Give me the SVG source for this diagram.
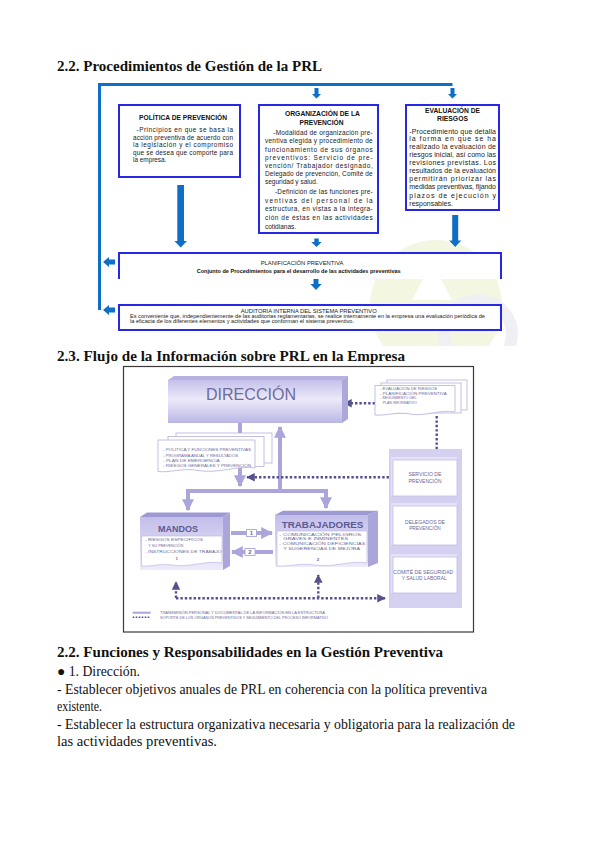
<svg xmlns="http://www.w3.org/2000/svg" width="600" height="848" viewBox="0 0 600 848">
<defs>
<style>
.h{font-family:"Liberation Serif",serif;font-weight:bold;font-size:15px;fill:#111}
.p{font-family:"Liberation Serif",serif;font-size:14px;fill:#111}
.bt{font-family:"Liberation Sans",Arial,sans-serif;font-weight:bold;fill:#111}
.b{font-family:"Liberation Sans",Arial,sans-serif;fill:#1a1a1a}
.box{fill:#fff;stroke:#2828e4;stroke-width:2}
.frame{stroke:#0f6fc6;stroke-width:3;fill:none}
.ba{fill:#0f6fc6}
.lv{stroke:#aaa6dc;stroke-width:4;fill:none}
.dt{stroke:#55518f;stroke-width:2.4;stroke-dasharray:2.4 2;fill:none}
.s{font-family:"Liberation Sans",Arial,sans-serif;fill:#6a6898}
.pg{fill:#fff;stroke:#b4b0dc;stroke-width:0.8}
</style>
<linearGradient id="gDir" x1="0" y1="0" x2="0" y2="1">
<stop offset="0" stop-color="#c4c0ea"/><stop offset="0.45" stop-color="#eceaf9"/><stop offset="1" stop-color="#bab6e5"/>
</linearGradient>
<linearGradient id="gHead" x1="0" y1="0" x2="0" y2="1">
<stop offset="0" stop-color="#c2beea"/><stop offset="1" stop-color="#eeecfa"/>
</linearGradient>
<clipPath id="wmClip"><rect x="340" y="200" width="260" height="146"/></clipPath>
<marker id="mLv" viewBox="0 0 10 10" refX="9" refY="5" markerWidth="3" markerHeight="3" orient="auto" markerUnits="strokeWidth">
<path d="M0,0 L10,5 L0,10 z" fill="#aaa6dc"/>
</marker>
<marker id="mDt" viewBox="0 0 10 10" refX="9" refY="5" markerWidth="3.6" markerHeight="3.6" orient="auto" markerUnits="strokeWidth">
<path d="M0,0 L10,5 L0,10 z" fill="#55518f"/>
</marker>
</defs>
<rect width="600" height="848" fill="#fff"/>

<!-- watermark -->
<g id="watermark" clip-path="url(#wmClip)">
<circle cx="436" cy="306" r="66" fill="#f3f7e2"/>
<path d="M412,300 L432,262 L452,300 Z" fill="#fff"/>
<circle cx="478" cy="334" r="34" fill="none" stroke="#eef0f4" stroke-width="12"/>
</g>

<!-- headings and paragraph -->
<g id="texts">
<text class="h" x="57" y="71" textLength="265" lengthAdjust="spacingAndGlyphs">2.2. Procedimientos de Gestión de la PRL</text>
<text class="h" x="57" y="361" textLength="348" lengthAdjust="spacingAndGlyphs">2.3. Flujo de la Información sobre PRL en la Empresa</text>
<text class="h" x="57" y="657" textLength="386" lengthAdjust="spacingAndGlyphs">2.2. Funciones y Responsabilidades en la Gestión Preventiva</text>
<text class="p" x="57" y="676" textLength="83" lengthAdjust="spacingAndGlyphs">● 1. Dirección.</text>
<text class="p" x="57" y="693.5" textLength="430" lengthAdjust="spacingAndGlyphs">- Establecer objetivos anuales de PRL en coherencia con la política preventiva</text>
<text class="p" x="57" y="711" textLength="45" lengthAdjust="spacingAndGlyphs">existente.</text>
<text class="p" x="57" y="728.5" textLength="458" lengthAdjust="spacingAndGlyphs">- Establecer la estructura organizativa necesaria y obligatoria para la realización de</text>
<text class="p" x="57" y="746" textLength="160" lengthAdjust="spacingAndGlyphs">las actividades preventivas.</text>
</g>

<!-- diagram 1 connectors -->
<g id="d1-connectors">
<path class="frame" d="M99.5,310 V84.5 H452.5"/>
<path class="ba" d="M314.5,88 h4 v6 h2.5 l-4.5,4.5 l-4.5,-4.5 h2.5 z"/>
<path class="ba" d="M450.5,88 h4 v6 h2.5 l-4.5,4.5 l-4.5,-4.5 h2.5 z"/>
<path class="ba" d="M177.3,185 h6.7 v56 h3 l-6.3,6.5 l-6.3,-6.5 h2.9 z"/>
<path class="ba" d="M314.3,238.5 h4.4 v3.5 h3 l-5.2,5 l-5.2,-5 h3 z"/>
<path class="ba" d="M452.2,215 h6 v25.5 h3 l-6,6.5 l-6,-6.5 h3 z"/>
<path class="ba" d="M313.5,279 h5 v5 h3.2 l-5.7,6 l-5.7,-6 h3.2 z"/>
<path class="ba" d="M103,262 l6,-5 v2.5 h6 v5 h-6 v2.5 z"/>
<path class="ba" d="M103,310 l6,-5 v2.5 h6 v5 h-6 v2.5 z"/>
</g>

<g id="politica">
<rect class="box" x="119" y="105" width="121" height="72"/>
<text class="bt" x="183" y="120.3" font-size="6.6" text-anchor="middle" textLength="88" lengthAdjust="spacingAndGlyphs">POLÍTICA DE PREVENCIÓN</text>
<g class="b" font-size="6.4">
<text x="136.5" y="132" textLength="96.5" lengthAdjust="spacing">-Principios en que se basa la</text>
<text x="133" y="139.5" textLength="100" lengthAdjust="spacing">acción preventiva de acuerdo con</text>
<text x="133" y="147" textLength="100" lengthAdjust="spacing">la legislación y el compromiso</text>
<text x="133" y="154.5" textLength="100" lengthAdjust="spacing">que se desea que comporte para</text>
<text x="133" y="162">la empresa.</text>
</g>
</g>

<g id="organizacion">
<rect class="box" x="259" y="105" width="119" height="128"/>
<text class="bt" x="322.5" y="116.3" font-size="6.6" text-anchor="middle" textLength="75" lengthAdjust="spacingAndGlyphs">ORGANIZACIÓN DE LA</text>
<text class="bt" x="321.5" y="124.7" font-size="6.6" text-anchor="middle" textLength="44" lengthAdjust="spacingAndGlyphs">PREVENCIÓN</text>
<g class="b" font-size="6.5">
<text x="273.3" y="135.3" textLength="99.4" lengthAdjust="spacing">-Modalidad de organización pre-</text>
<text x="265" y="143" textLength="107.7" lengthAdjust="spacing">ventiva elegida y procedimiento de</text>
<text x="265" y="151.5" textLength="107.7" lengthAdjust="spacing">funcionamiento de sus órganos</text>
<text x="265" y="160" textLength="107.7" lengthAdjust="spacing">preventivos: Servicio de pre-</text>
<text x="265" y="168" textLength="107.7" lengthAdjust="spacing">vención/ Trabajador designado,</text>
<text x="265" y="176.3" textLength="107.7" lengthAdjust="spacing">Delegado de prevención, Comité de</text>
<text x="265" y="183.7">seguridad y salud.</text>
<text x="275" y="193.7" textLength="97.7" lengthAdjust="spacing">-Definición de las funciones pre-</text>
<text x="265" y="202.5" textLength="107.7" lengthAdjust="spacing">ventivas del personal de la</text>
<text x="265" y="211.3" textLength="107.7" lengthAdjust="spacing">estructura, en vistas a la integra-</text>
<text x="265" y="220.2" textLength="107.7" lengthAdjust="spacing">ción de éstas en las actividades</text>
<text x="265" y="228.7">cotidianas.</text>
</g>
</g>

<g id="evaluacion">
<rect class="box" x="406" y="105" width="93" height="105"/>
<text class="bt" x="452.5" y="112.7" font-size="6.8" text-anchor="middle" textLength="55" lengthAdjust="spacingAndGlyphs">EVALUACIÓN DE</text>
<text class="bt" x="452.5" y="121" font-size="6.8" text-anchor="middle" textLength="31" lengthAdjust="spacingAndGlyphs">RIESGOS</text>
<g class="b" font-size="7">
<text x="409.3" y="133.7" textLength="86.7" lengthAdjust="spacing">-Procedimiento que detalla</text>
<text x="409.3" y="141.3" textLength="86.7" lengthAdjust="spacing">la forma en que se ha</text>
<text x="409.3" y="148.7" textLength="86.7" lengthAdjust="spacing">realizado la evaluación de</text>
<text x="409.3" y="157" textLength="86.7" lengthAdjust="spacing">riesgos inicial, así como las</text>
<text x="409.3" y="165.3" textLength="86.7" lengthAdjust="spacing">revisiones previstas. Los</text>
<text x="409.3" y="173" textLength="86.7" lengthAdjust="spacing">resultados de la evaluación</text>
<text x="409.3" y="181.3" textLength="86.7" lengthAdjust="spacing">permitirán priorizar las</text>
<text x="409.3" y="189.3" textLength="86.7" lengthAdjust="spacing">medidas preventivas, fijando</text>
<text x="409.3" y="198" textLength="86.7" lengthAdjust="spacing">plazos de ejecución y</text>
<text x="409.3" y="206">responsables.</text>
</g>
</g>

<g id="planificacion">
<rect x="119" y="253" width="382" height="26" fill="#fff"/>
<path d="M119,279 V253 H501 V279" fill="none" stroke="#2828e4" stroke-width="2"/>
<text class="b" x="302" y="265" font-size="5.6" text-anchor="middle" textLength="82.6" lengthAdjust="spacingAndGlyphs">PLANIFICACIÓN PREVENTIVA</text>
<text class="bt" x="298.7" y="272.5" font-size="5.4" text-anchor="middle" textLength="204" lengthAdjust="spacingAndGlyphs">Conjunto de Procedimientos para el desarrollo de las actividades preventivas</text>
</g>

<g id="auditoria">
<rect class="box" x="119" y="305" width="382" height="25"/>
<text class="b" x="308.7" y="312.5" font-size="5.4" text-anchor="middle" textLength="136" lengthAdjust="spacingAndGlyphs">AUDITORIA INTERNA DEL SISTEMA PREVENTIVO</text>
<text class="b" x="130" y="317.8" font-size="5.2" textLength="355" lengthAdjust="spacingAndGlyphs">Es conveniente que, independientemente de las auditorias reglamentarias, se realice internamente en la empresa una evaluación periódica de</text>
<text class="b" x="130" y="323.3" font-size="5.2" textLength="224" lengthAdjust="spacingAndGlyphs">la eficacia de los diferentes elementos y actividades que conforman el sistema preventivo.</text>
</g>

<!-- diagram 2 -->
<g id="image-frame">
<rect x="123.5" y="366.5" width="350" height="265.5" fill="#fff" stroke="#3a3a3a" stroke-width="1.2"/>
</g>

<g id="d2-connectors">
<path class="lv" d="M240,423 V470"/>
<path class="lv" d="M240,470 V486" marker-end="url(#mLv)"/>
<path class="lv" d="M280,491 V427" marker-end="url(#mLv)"/>
<path class="lv" d="M186,491 H328"/>
<path class="lv" d="M188,491 V510" marker-end="url(#mLv)"/>
<path class="lv" d="M326,491 V508" marker-end="url(#mLv)"/>
<path class="lv" d="M231,533 H272" marker-end="url(#mLv)"/>
<path class="lv" d="M273,552 H232" marker-end="url(#mLv)"/>
<path class="dt" d="M375,403.3 H344" marker-end="url(#mDt)"/>
<path class="dt" d="M436.7,416 V449"/>
<path class="dt" d="M389,477.3 H247" marker-end="url(#mDt)"/>
<path class="dt" d="M176,598 V582" marker-end="url(#mDt)"/>
<path class="dt" d="M318.3,598 V575" marker-end="url(#mDt)"/>
<path class="dt" d="M176,598.3 H385" marker-end="url(#mDt)"/>
<g>
<rect x="246.5" y="529.5" width="10" height="7" fill="#fff" stroke="#aaa6dc" stroke-width="0.9"/>
<text class="s" x="251.5" y="535.3" font-size="6" font-weight="bold" text-anchor="middle">1</text>
<rect x="245" y="548.5" width="10" height="7" fill="#fff" stroke="#aaa6dc" stroke-width="0.9"/>
<text class="s" x="250" y="554.3" font-size="6" font-weight="bold" text-anchor="middle">2</text>
</g>
</g>

<g id="direccion">
<path d="M168,380 L174,376 H348 L342,380 Z" fill="#b6b2e2"/>
<path d="M342,380 L348,376 V419 L342,423 Z" fill="#aca8dc"/>
<rect x="168" y="380" width="174" height="43" fill="url(#gDir)"/>
<text x="251" y="400" font-family="'Liberation Sans',Arial,sans-serif" font-size="16" fill="#6e6c9c" text-anchor="middle" textLength="90" lengthAdjust="spacingAndGlyphs">DIRECCIÓN</text>
</g>

<g id="docs-left">
<rect class="pg" x="176" y="433" width="96" height="30"/>
<rect class="pg" x="168" y="436.5" width="96" height="30"/>
<path class="pg" d="M158,440 H255 V468 C238,465 218,474 198,470.5 C182,467.5 170,473 158,471.5 Z"/>
<g class="s" font-size="4.3">
<text x="163" y="451" textLength="88" lengthAdjust="spacingAndGlyphs">- POLÍTICA Y FUNCIONES PREVENTIVAS</text>
<text x="163" y="456.5" textLength="75" lengthAdjust="spacingAndGlyphs">- PROGRAMA ANUAL Y RESULTADOS</text>
<text x="163" y="461.5" textLength="56.7" lengthAdjust="spacingAndGlyphs">- PLAN DE EMERGENCIA</text>
<text x="163" y="467" textLength="88" lengthAdjust="spacingAndGlyphs">- RIESGOS GENERALES Y PREVENCIÓN</text>
</g>
</g>

<g id="docs-right">
<rect class="pg" x="387" y="380" width="80" height="30"/>
<rect class="pg" x="381" y="383" width="80" height="30"/>
<path class="pg" d="M375,385.5 H455 V412 C440,409 425,417 410,414 C397,411.5 386,416 375,415 Z"/>
<g class="s" font-size="4.3">
<text x="380" y="389.8" textLength="57" lengthAdjust="spacingAndGlyphs">- EVALUACIÓN DE RIESGOS</text>
<text x="380" y="394.6" textLength="66.7" lengthAdjust="spacingAndGlyphs">- PLANIFICACIÓN PREVENTIVA</text>
<text x="380" y="399.2" textLength="36.7" lengthAdjust="spacingAndGlyphs">- SEGUIMIENTO DEL</text>
<text x="382.7" y="403.6" textLength="34" lengthAdjust="spacingAndGlyphs">PLAN INFORMATIVO</text>
</g>
</g>

<g id="organos">
<rect x="389" y="449" width="73" height="159" fill="#d3d0f0"/>
<rect x="391" y="457" width="66" height="39" fill="#e4e2f6"/>
<rect x="393" y="460" width="64" height="36" fill="#fff" stroke="#c0bce6" stroke-width="0.8"/>
<rect x="391" y="503" width="66" height="42" fill="#e4e2f6"/>
<rect x="393" y="506" width="64" height="39" fill="#fff" stroke="#c0bce6" stroke-width="0.8"/>
<rect x="391" y="554" width="66" height="39" fill="#e4e2f6"/>
<rect x="393" y="557" width="64" height="36" fill="#fff" stroke="#c0bce6" stroke-width="0.8"/>
<g class="s" font-size="4.6" text-anchor="middle">
<text x="425" y="476" textLength="33" lengthAdjust="spacingAndGlyphs">SERVICIO DE</text>
<text x="425" y="482.5" textLength="33" lengthAdjust="spacingAndGlyphs">PREVENCIÓN</text>
<text x="425" y="524" textLength="40" lengthAdjust="spacingAndGlyphs">DELEGADOS DE</text>
<text x="425" y="530" textLength="31.7" lengthAdjust="spacingAndGlyphs">PREVENCIÓN</text>
<text x="423.3" y="574" textLength="60" lengthAdjust="spacingAndGlyphs">COMITÉ DE SEGURIDAD</text>
<text x="424.2" y="580" textLength="45" lengthAdjust="spacingAndGlyphs">Y SALUD LABORAL</text>
</g>
</g>

<g id="mandos">
<path d="M140,517 L147,512.5 H230 L223,517 Z" fill="#9d99d2"/>
<path d="M223,517 L230,512.5 V566 L223,570 Z" fill="#aaa6da"/>
<rect x="140" y="517" width="83" height="53" fill="url(#gHead)"/>
<path d="M141.5,536 H222 V563 C205,560 190,568 172,565 C160,563 150,567 141.5,566 Z" fill="#fff" stroke="#bdb9e4" stroke-width="0.7"/>
<text x="178" y="531.7" font-family="'Liberation Sans',Arial,sans-serif" font-weight="bold" font-size="9.5" fill="#5b5993" text-anchor="middle" textLength="40" lengthAdjust="spacingAndGlyphs">MANDOS</text>
<g class="s" font-size="4.4">
<text x="145" y="541" textLength="58" lengthAdjust="spacingAndGlyphs">- RIESGOS ESPECÍFICOS</text>
<text x="148.3" y="546.5" textLength="35" lengthAdjust="spacingAndGlyphs">Y SU PREVENCIÓN</text>
<text x="145" y="552.5" textLength="76.7" lengthAdjust="spacingAndGlyphs">- INSTRUCCIONES DE TRABAJO</text>
<text x="176.7" y="559.5" font-weight="bold" text-anchor="middle">1</text>
</g>
</g>

<g id="trabajadores">
<path d="M275,515 L283,510.7 H378 L368,515 Z" fill="#9d99d2"/>
<path d="M368,515 L378,510.7 V563 L368,567 Z" fill="#aaa6da"/>
<rect x="275" y="515" width="93" height="52" fill="url(#gHead)"/>
<path d="M277,531 H367 V563 C350,560 333,568 315,565 C300,562.5 288,567 277,566 Z" fill="#fff" stroke="#bdb9e4" stroke-width="0.7"/>
<text x="322.5" y="528.3" font-family="'Liberation Sans',Arial,sans-serif" font-weight="bold" font-size="9.8" fill="#5b5993" text-anchor="middle" textLength="81.6" lengthAdjust="spacingAndGlyphs">TRABAJADORES</text>
<g class="s" font-size="4.4">
<text x="279.3" y="535.5" textLength="82" lengthAdjust="spacingAndGlyphs">- COMUNICACIÓN PELIGROS</text>
<text x="283.3" y="540" textLength="65" lengthAdjust="spacingAndGlyphs">GRAVES E INMINENTES</text>
<text x="279.3" y="544.7" textLength="86" lengthAdjust="spacingAndGlyphs">- COMUNICACIÓN DEFICIENCIAS</text>
<text x="283.3" y="549.5" textLength="76.7" lengthAdjust="spacingAndGlyphs">Y SUGERENCIAS DE MEJORA</text>
<text x="318" y="560.5" font-weight="bold" text-anchor="middle">2</text>
</g>
</g>

<g id="legend">
<line x1="132.7" y1="612.7" x2="150.7" y2="612.7" stroke="#aaa6dc" stroke-width="2"/>
<line x1="132.7" y1="617.3" x2="150.7" y2="617.3" stroke="#55518f" stroke-width="1.6" stroke-dasharray="1.6 1.4"/>
<text class="s" x="160" y="614" font-size="3.6" textLength="165" lengthAdjust="spacingAndGlyphs">TRANSMISIÓN PERSONAL Y DOCUMENTAL DE LA INFORMACIÓN EN LA ESTRUCTURA</text>
<text class="s" x="160" y="618.6" font-size="3.6" textLength="168" lengthAdjust="spacingAndGlyphs">SOPORTE DE LOS ÓRGANOS PREVENTIVOS Y SEGUIMIENTO DEL PROCESO INFORMATIVO</text>
</g>
</svg>
